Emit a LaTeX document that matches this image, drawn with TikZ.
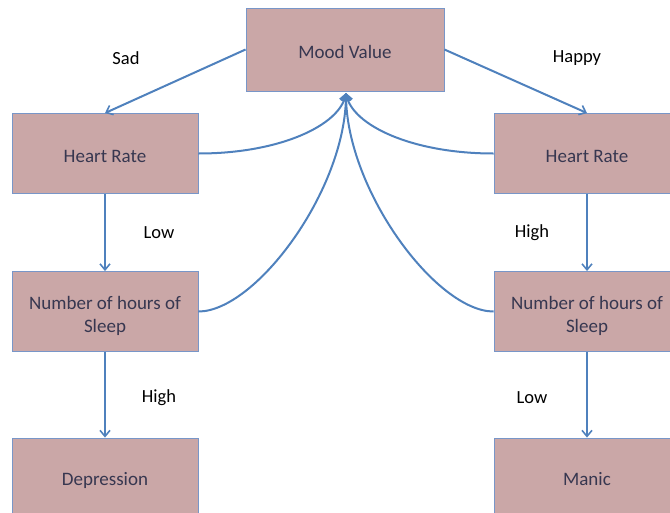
\documentclass[tikz,border=0pt]{standalone}
\usepackage{fontspec}
\setmainfont{Carlito}
\usetikzlibrary{arrows.meta}
\definecolor{boxfill}{RGB}{202,167,167}
\definecolor{boxline}{RGB}{120,150,200}
\definecolor{arr}{RGB}{79,129,189}
\definecolor{boxtext}{RGB}{55,55,80}
\newcommand{\oneline}[2]{\raisebox{#1}[0pt][0pt]{#2}}
\newcommand{\twolines}[3]{\raisebox{#1}[0pt][0pt]{\begin{tabular}[t]{@{}c@{}}#2\\#3\end{tabular}}}
\begin{document}
\begin{tikzpicture}[x=1pt,y=-1pt,
  box/.style={draw=boxline,line width=0.9pt,fill=boxfill,minimum width=186pt,minimum height=80pt,
    text=boxtext,font=\fontsize{19}{23}\selectfont,align=center,inner sep=0pt},
  lbl/.style={text=black,font=\fontsize{18.5}{22}\selectfont,inner sep=0pt},
  conn/.style={draw=arr,line width=2pt,-{Straight Barb[length=6pt,width=10pt,line width=1.6pt]}}]
\useasboundingbox (0,0) rectangle (670,512);
\node[box,minimum width=198pt,minimum height=83pt] (mood) at (345,49.5) {\oneline{-8.5pt}{Mood Value}};
\node[box] (hl) at (105,153.5) {\oneline{-9pt}{Heart Rate}};
\node[box] (hr) at (587,153.5) {\oneline{-9pt}{Heart Rate}};
\node[box] (sl) at (105,311.5) {\twolines{2.5pt}{Number of hours of}{Sleep}};
\node[box] (sr) at (587,311.5) {\twolines{2.5pt}{Number of hours of}{Sleep}};
\node[box] (dep) at (105,478) {\oneline{-7pt}{Depression}};
\node[box] (man) at (587,478) {\oneline{-7pt}{Manic}};
\coordinate (tip) at (346,93);
\node[lbl] (sad) at (126,58) {Sad};
\node[lbl] (happy) at (577,58) {Happy};
\node[lbl] (l1) at (159,233) {Low};
\node[lbl] (h1) at (532,233) {High};
\node[lbl] (h2) at (159,398) {High};
\node[lbl] (l2) at (532,398) {Low};
\draw[conn] (mood.west) -- (hl.north);
\draw[conn] (mood.east) -- (hr.north);
\draw[conn] (hl.south) -- (sl.north);
\draw[conn] (hr.south) -- (sr.north);
\draw[conn] (sl.south) -- (dep.north);
\draw[conn] (sr.south) -- (man.north);
\draw[conn] (hl.east) .. controls +(82,0) and +(-6,32) .. (tip);
\draw[conn] (hr.west) .. controls +(-82,0) and +(6,32) .. (tip);
\draw[conn] (sl.east) .. controls +(57,0) and +(0,97) .. (tip);
\draw[conn] (sr.west) .. controls +(-57,0) and +(0,97) .. (tip);
\end{tikzpicture}
\end{document}
